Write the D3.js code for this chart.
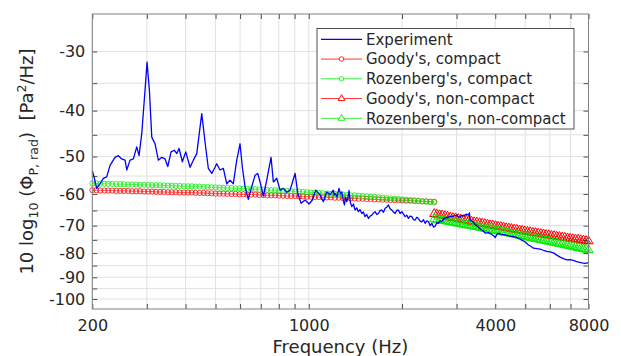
<!DOCTYPE html>
<html><head><meta charset="utf-8">
<script src="https://cdn.jsdelivr.net/npm/d3@7"></script>
<style>
body{margin:0;background:#fff}
text{font-family:"DejaVu Sans",sans-serif;fill:#262626}
</style>
</head><body>
<svg id="c" width="621" height="356"></svg>
<script>
// ---------- data ----------
const expFreq = [200,203,206.7,211.8,217,222.6,228.2,236.8,242.7,248.9,255.1,258.4,264.8,271.4,278.3,283.1,288.9,296,300.5,305.7,311.2,318.9,326.8,335.2,343.5,350.5,359.2,368.1,374.7,381.2,390.6,400.6,413.7,423.9,434.8,451.2,462.4,473.9,486.1,498.1,504.4,517,529.8,543.4,556.8,570.7,585.3,599.8,610.2,622.6,638,654.3,670.6,684.2,696,713.3,731.6,755.3,768.4,788.1,807.6,827.7,848.9,870,903,921.3,944.2,972.7,1002,1027,1053,1087,1114,1143,1171,
1200,1208,1216,1234,1252,1265,1278,1290,1303,1315,1326,1338,1349,1362,1377,1394,1411,1428,1446,1464,1483,1500,1520,1538,1558,1578,1598,1618,1638,1658,1678,1700,1721,1742,1764,1786,1808,1830,1854,1877,1900,1923,1947,1972,1997,2022,2047,2072,2097,2124,2151,2178,2205,2232,2259,2288,2317,2346,2375,2404,2434,2465,2496,2527,2558,2590,2621,2655,2689,2720,2756,2800,2860,2930,3006,3040,3081,3120,3157,3220,3277,3300,3318,3380,3444,3530,3620,3665,3710,3800,3900,3950,3997,4040,4096,4170,4251,4360,4468,4580,4696,4780,4874,5000,5120,5210,5314,5450,5585,5720,5871,6010,6166,6320,6481,6640,6812,6980,7155,7290,7426,7610,7805,8000];
const expDb = [-53.6,-55.5,-58.4,-57.1,-55.6,-55.2,-52.2,-50.2,-49.8,-50.6,-50.9,-53.4,-50.9,-50.6,-47.7,-49.8,-44.7,-36.2,-31.6,-36.2,-45.5,-47.0,-50.9,-50.2,-50.6,-52.5,-48.9,-48.5,-49.3,-48.1,-51.3,-48.9,-52.7,-50.9,-49.3,-40.6,-46.6,-53.0,-54.3,-52.7,-51.8,-53.4,-53.0,-57.1,-56.1,-57.1,-50.9,-47.0,-52.7,-57.9,-61.6,-57.9,-54.8,-54.3,-56.6,-60.6,-56.1,-50.2,-56.6,-55.6,-58.9,-58.4,-59.5,-58.9,-54.3,-59.7,-62.8,-61.8,-63.0,-61.8,-58.9,-60.2,-62.3,-59.4,-60.2,
-58.9,-60.3,-59.8,-60.8,-58.4,-60.0,-59.4,-61.5,-63.3,-61.0,-62.3,-61.0,-59.0,-62.5,-63.8,-63.0,-64.9,-64.2,-65.4,-64.8,-66.0,-65.5,-67.0,-66.3,-67.6,-66.8,-66.5,-65.8,-65.4,-66.3,-66.0,-65.0,-64.9,-65.6,-64.3,-64.0,-63.3,-64.5,-64.9,-65.5,-66.0,-65.0,-64.9,-66.0,-65.4,-66.2,-67.0,-66.5,-67.6,-66.8,-67.0,-68.0,-68.1,-67.2,-67.6,-68.5,-68.7,-68.0,-69.2,-68.4,-68.7,-70.0,-69.2,-70.5,-70.2,-69.0,-69.2,-68.4,-68.7,-67.8,-67.5,-67.2,-67.0,-66.8,-66.5,-67.2,-67.0,-66.6,-66.8,-66.2,-66.5,-65.8,-68.1,-68.6,-69.5,-70.6,-71.5,-71.9,-72.6,-72.4,-73.1,-73.5,-74.2,-73.2,-72.6,-73.0,-73.1,-73.4,-73.7,-73.8,-74.2,-74.6,-75.1,-75.8,-76.9,-77.4,-78.1,-78.3,-78.5,-78.9,-79.3,-79.5,-79.9,-80.8,-81.6,-82.2,-82.7,-82.6,-82.9,-83.3,-83.6,-83.9,-84.1,-83.8];

const compactFreq = [200,206,212,219,225,232,239,246,253,261,269,277,285,294,303,312,321,331,340,351,361,372,383,395,407,419,431,444,458,471,485,500,515,530,546,563,580,597,615,633,652,672,692,713,734,756,779,802,826,851,877,903,930,958,987,1016,1047,1078,1111,1144,1178,1214,1250,1288,1326,1366,1407,1449,1493,1538,1584,1631,1680,1731,1783,1836,1891,1948,2006,2066,2128,2192,2258,2326,2396,2467,2541];
const goodyCompact = [-58.9,-58.9,-59.0,-59.0,-59.0,-59.0,-59.1,-59.1,-59.1,-59.1,-59.2,-59.2,-59.2,-59.3,-59.3,-59.3,-59.4,-59.4,-59.4,-59.5,-59.5,-59.5,-59.6,-59.6,-59.6,-59.6,-59.7,-59.7,-59.7,-59.8,-59.8,-59.9,-59.9,-59.9,-60.0,-60.0,-60.0,-60.1,-60.1,-60.2,-60.2,-60.2,-60.3,-60.3,-60.4,-60.4,-60.4,-60.5,-60.5,-60.6,-60.6,-60.6,-60.7,-60.7,-60.8,-60.8,-60.9,-60.9,-61.0,-61.0,-61.0,-61.1,-61.1,-61.2,-61.2,-61.3,-61.3,-61.4,-61.4,-61.5,-61.5,-61.6,-61.6,-61.7,-61.7,-61.8,-61.8,-61.9,-61.9,-62.0,-62.0,-62.1,-62.1,-62.2,-62.2,-62.3,-62.3];
const rozCompact = [-57.0,-57.0,-57.1,-57.1,-57.1,-57.1,-57.2,-57.2,-57.2,-57.3,-57.3,-57.3,-57.4,-57.4,-57.4,-57.5,-57.5,-57.5,-57.6,-57.6,-57.6,-57.7,-57.7,-57.8,-57.8,-57.8,-57.9,-57.9,-58.0,-58.0,-58.1,-58.1,-58.2,-58.2,-58.3,-58.3,-58.4,-58.4,-58.5,-58.5,-58.6,-58.6,-58.7,-58.8,-58.8,-58.9,-58.9,-59.0,-59.1,-59.1,-59.2,-59.3,-59.3,-59.4,-59.5,-59.6,-59.6,-59.7,-59.8,-59.9,-60.0,-60.0,-60.1,-60.2,-60.3,-60.4,-60.4,-60.5,-60.6,-60.7,-60.8,-60.9,-61.0,-61.1,-61.2,-61.3,-61.4,-61.5,-61.6,-61.7,-61.8,-61.9,-62.0,-62.2,-62.3,-62.4,-62.5];

const nonCompactFreq = [2541,2592,2644,2697,2751,2806,2862,2919,2978,3037,3098,3160,3223,3288,3353,3420,3489,3559,3630,3702,3776,3852,3929,4008,4088,4169,4253,4338,4425,4513,4603,4696,4789,4885,4983,5082,5184,5288,5394,5502,5612,5724,5838,5955,6074,6196,6319,6446,6575,6706,6840,6977,7117,7259,7404,7552,7703,7857,8000];
const goodyNonCompact = [-66.1,-66.3,-66.5,-66.6,-66.8,-67.0,-67.2,-67.4,-67.5,-67.7,-67.9,-68.1,-68.2,-68.4,-68.6,-68.8,-68.9,-69.1,-69.3,-69.4,-69.6,-69.8,-69.9,-70.1,-70.3,-70.4,-70.6,-70.8,-70.9,-71.1,-71.3,-71.4,-71.6,-71.7,-71.9,-72.1,-72.2,-72.4,-72.5,-72.7,-72.9,-73.0,-73.2,-73.3,-73.5,-73.6,-73.8,-73.9,-74.1,-74.2,-74.4,-74.5,-74.7,-74.8,-74.9,-75.1,-75.2,-75.4,-75.5];
const rozNonCompact = [-67.8,-68.0,-68.1,-68.3,-68.4,-68.6,-68.8,-68.9,-69.1,-69.3,-69.4,-69.6,-69.8,-69.9,-70.1,-70.3,-70.4,-70.6,-70.8,-71.0,-71.2,-71.3,-71.5,-71.7,-71.9,-72.1,-72.3,-72.4,-72.6,-72.8,-73.0,-73.2,-73.4,-73.6,-73.8,-74.0,-74.2,-74.4,-74.6,-74.8,-75.0,-75.2,-75.4,-75.6,-75.8,-76.0,-76.2,-76.4,-76.6,-76.9,-77.1,-77.3,-77.5,-77.7,-78.0,-78.2,-78.4,-78.6,-78.8];

const xTicks = [200,1000,4000,8000];
const xMinorTicks = [300,400,500,600,700,800,900,2000,3000,5000,6000,7000];
const yTicks = [-30,-40,-50,-60,-70,-80,-90,-100];
const yMinorTicks = [-35,-45,-55,-65,-75,-85,-95];
const legendLabels = ["Experiment","Goody's, compact","Rozenberg's, compact","Goody's, non-compact","Rozenberg's, non-compact"];

// ---------- chart ----------
const L=92.3, R=588.5, T=14, B=309;
const svg = d3.select("#c");
const x = d3.scaleLog().domain([200,8000]).range([L,R]);
const ys = d3.scaleLog().domain([25,105]).range([T,B]);
const y = v => ys(-v);

const RED="#ff0000", GREEN="#00ee00", BLUE="#0000ff";

// grid
const g = svg.append("g");
const allX = xTicks.concat(xMinorTicks), allY = yTicks.concat(yMinorTicks);
g.selectAll(".gx").data(allX).join("line")
  .attr("x1",d=>x(d)).attr("x2",d=>x(d)).attr("y1",T).attr("y2",B)
  .attr("stroke","#e1e1e1").attr("stroke-width",1);
g.selectAll(".gy").data(allY).join("line")
  .attr("x1",L).attr("x2",R).attr("y1",d=>y(d)).attr("y2",d=>y(d))
  .attr("stroke","#e1e1e1").attr("stroke-width",1);

const line = d3.line().x(d=>x(d[0])).y(d=>y(d[1]));
const zip = (a,b)=>a.map((f,i)=>[f,b[i]]);
const circ = (sel,data,color)=>{
  sel.append("path").attr("d",line(data)).attr("fill","none").attr("stroke",color).attr("stroke-width",0.6);
  sel.selectAll(null).data(data).join("circle").attr("cx",d=>x(d[0])).attr("cy",d=>y(d[1]))
    .attr("r",2.6).attr("fill","none").attr("stroke",color).attr("stroke-width",0.75);
};
const tri = d3.symbol().type(d3.symbolTriangle).size(36);
const triLeg = d3.symbol().type(d3.symbolTriangle).size(20);
const tris = (sel,data,color)=>{
  sel.append("path").attr("d",line(data)).attr("fill","none").attr("stroke",color).attr("stroke-width",0.6);
  sel.selectAll(null).data(data).join("path").attr("d",tri)
    .attr("transform",d=>`translate(${x(d[0])},${y(d[1])})`)
    .attr("fill","none").attr("stroke",color).attr("stroke-width",1);
};
const plot = svg.append("g");
circ(plot.append("g"), zip(compactFreq,goodyCompact), RED);
circ(plot.append("g"), zip(compactFreq,rozCompact), GREEN);
tris(plot.append("g"), zip(nonCompactFreq,goodyNonCompact), RED);
tris(plot.append("g"), zip(nonCompactFreq,rozNonCompact), GREEN);
plot.append("path").attr("d",line(zip(expFreq,expDb))).attr("fill","none")
  .attr("stroke",BLUE).attr("stroke-width",1.3).attr("stroke-linejoin","round");

// axes
const axCol="#262626";
const styleAx = a => { a.select(".domain").remove(); a.selectAll("line").attr("stroke",axCol).attr("stroke-width",0.8);
  a.selectAll("text").attr("fill",axCol).style("font-size","16px").style("font-family","DejaVu Sans"); };
svg.append("g").attr("transform",`translate(0,${B})`)
  .call(d3.axisBottom(x).tickValues(xTicks).tickFormat(d3.format("d")).tickSizeInner(-5).tickSizeOuter(0).tickPadding(11)).call(styleAx);
svg.append("g").attr("transform",`translate(0,${B})`)
  .call(d3.axisBottom(x).tickValues(xMinorTicks).tickFormat("").tickSizeInner(-5).tickSizeOuter(0)).call(styleAx);
svg.append("g").attr("transform",`translate(0,${T})`)
  .call(d3.axisTop(x).tickValues(allX).tickFormat("").tickSizeInner(-5).tickSizeOuter(0)).call(styleAx);
const yAx = d3.scaleLog().domain([25,105]).range([T,B]);
svg.append("g").attr("transform",`translate(${L},0)`)
  .call(d3.axisLeft(yAx).tickValues(yTicks.map(v=>-v)).tickFormat(d=>"-"+d).tickSizeInner(-5).tickSizeOuter(0).tickPadding(7)).call(styleAx);
svg.append("g").attr("transform",`translate(${L},0)`)
  .call(d3.axisLeft(yAx).tickValues(yMinorTicks.map(v=>-v)).tickFormat("").tickSizeInner(-5).tickSizeOuter(0)).call(styleAx);
svg.append("g").attr("transform",`translate(${R},0)`)
  .call(d3.axisRight(yAx).tickValues(allY.map(v=>-v)).tickFormat("").tickSizeInner(-5).tickSizeOuter(0)).call(styleAx);
svg.append("rect").attr("x",L).attr("y",T).attr("width",R-L).attr("height",B-T)
  .attr("fill","none").attr("stroke","#808080").attr("stroke-width",1);

// labels
svg.append("text").attr("x",(L+R)/2).attr("y",352.5).attr("text-anchor","middle")
  .style("font-size","18px").text("Frequency (Hz)");
const yl = svg.append("text").attr("transform",`translate(33,${(T+B)/2}) rotate(-90)`)
  .attr("text-anchor","middle").style("font-size","18px");
yl.append("tspan").text("10 log");
yl.append("tspan").attr("dy",5).style("font-size","12.6px").text("10");
yl.append("tspan").attr("dy",-5).text("\u00a0(Φ");
yl.append("tspan").attr("dy",5).style("font-size","12.6px").text("P, rad");
yl.append("tspan").attr("dy",-5).text(")\u00a0\u00a0[Pa");
yl.append("tspan").attr("dy",-7).style("font-size","12.6px").text("2");
yl.append("tspan").attr("dy",7).text("/Hz]");

// legend
const lg = svg.append("g");
lg.append("rect").attr("x",317).attr("y",28.5).attr("width",257).attr("height",100.5)
  .attr("fill","#fff").attr("stroke","#262626").attr("stroke-width",0.8);
const legColors=[BLUE,RED,GREEN,RED,GREEN], legMarks=[null,"c","c","t","t"];
legendLabels.forEach((lab,i)=>{
  const yy = 39.3 + i*19.75;
  lg.append("line").attr("x1",321).attr("x2",362).attr("y1",yy).attr("y2",yy)
    .attr("stroke",legColors[i]).attr("stroke-width",i===0?1.3:0.8);
  if(legMarks[i]==="c") lg.append("circle").attr("cx",341.5).attr("cy",yy).attr("r",2.3)
    .attr("fill","#fff").attr("stroke",legColors[i]).attr("stroke-width",0.8);
  if(legMarks[i]==="t") lg.append("path").attr("d",triLeg).attr("transform",`translate(341.5,${yy})`)
    .attr("fill","#fff").attr("stroke",legColors[i]).attr("stroke-width",0.9);
  lg.append("text").attr("x",366).attr("y",yy).attr("dy","0.36em").style("font-size","15px").text(lab);
});
</script>
</body></html>
